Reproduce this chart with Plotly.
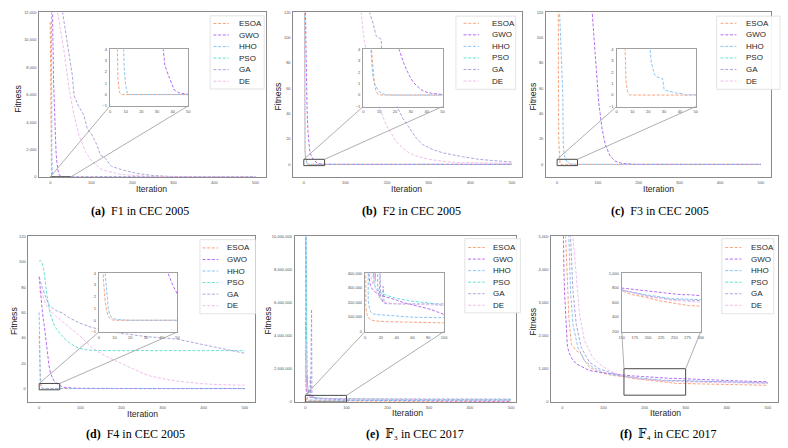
import plotly.graph_objects as go

W, H = 788, 448
ALGOS = ["ESOA", "GWO", "HHO", "PSO", "GA", "DE"]
COLORS = {"ESOA": "#F79A6E", "GWO": "#AA5CF2", "HHO": "#7DBDF2",
          "PSO": "#55DDD0", "GA": "#A29CD8", "DE": "#EDB7EA"}

# ---------------- data: (iteration, fitness) ----------------
# (a) F1 in CEC 2005
F1_ESOA = [(0, 11300), (1, 3000), (2, 600), (3, 90), (4, 10), (5, 1.5), (6, 0.2), (7, 0.02), (8, 0), (500, 0)]
F1_GWO = [(0, 42000), (2, 30000), (4, 18000), (6, 11000), (8, 7000), (10, 4800), (12, 3000), (14, 1900),
          (16, 1100), (18, 600), (20, 320), (22, 160), (25, 60), (28, 20), (31, 8), (34, 4), (35, 2.6),
          (37, 1.8), (39, 1.0), (41, 0.4), (44, 0.15), (47, 0.06), (50, 0.02), (60, 0), (500, 0)]
F1_HHO = [(0, 35000), (1, 22000), (2, 12500), (3, 5000), (4, 1500), (5, 400), (6, 90), (7, 20), (8, 7),
          (9, 2.5), (10, 0.8), (11, 0.15), (12, 0.02), (13, 0), (500, 0)]
F1_PSO = [(0, 90000), (100, 60000), (200, 45000), (300, 38000), (400, 33000), (500, 30000)]
F1_GA = [(0, 60000), (20, 20000), (30, 12000), (34, 11230), (39, 10030), (46, 8830), (54, 7380), (58, 5940),
         (68, 5220), (82, 4500), (90, 3540), (102, 3050), (114, 2330), (122, 1610), (134, 1370), (146, 890),
         (150, 770), (175, 530), (207, 290), (247, 120), (287, 50), (350, 15), (420, 5), (500, 2)]
F1_DE = [(0, 50000), (10, 20000), (18, 12000), (34, 9070), (46, 6420), (58, 4500), (70, 3050), (86, 1850),
         (102, 1130), (126, 530), (167, 220), (207, 100), (287, 20), (350, 5), (420, 1), (500, 0.5)]

# (b) F2 in CEC 2005
F2_ESOA = [(0, 320), (1, 70), (2, 22), (3, 9), (4, 6), (5, 4.6), (6, 2.6), (7, 1.1), (8, 0.35), (9, 0.1),
           (10, 0.02), (12, 0), (500, 0)]
F2_GWO = [(0, 1200), (2, 400), (4, 125), (5, 95), (6, 70), (8, 42), (10, 26), (12, 17), (14, 11.5), (16, 8.2),
          (18, 6.3), (20, 5), (22, 4.2), (24, 3.4), (26, 2.6), (28, 2.0), (30, 1.45), (32, 1.05), (34, 0.75),
          (36, 0.52), (38, 0.35), (40, 0.24), (43, 0.15), (46, 0.09), (50, 0.05), (60, 0.01), (80, 0), (500, 0)]
F2_HHO = [(0, 400), (1, 120), (2, 32), (3, 11), (4, 5.5), (5, 3.3), (6, 1.7), (7, 1.0), (8, 0.7), (9, 0.5),
          (10, 0.3), (12, 0.1), (15, 0.02), (20, 0), (500, 0)]
F2_PSO = [(0, 3000), (100, 1500), (200, 900), (300, 700), (400, 600), (500, 550)]
F2_GA = [(0, 600), (100, 240), (140, 160), (158, 120), (166, 111.7), (174, 101.3), (186, 98.7), (187, 90.9),
         (202, 67.5), (218, 49.4), (238, 36.4), (254, 28.6), (270, 20.8), (286, 15.6), (310, 11.7), (334, 9.1),
         (358, 7.3), (382, 6), (422, 3.9), (462, 2.6), (500, 1.8)]
F2_DE = [(0, 500), (100, 200), (138, 120), (142, 106), (150, 88), (166, 62), (182, 44), (198, 31), (222, 18),
         (246, 10.4), (270, 6.5), (302, 3.9), (342, 2.1), (382, 1.3), (500, 0.8)]

# (c) F3 in CEC 2005
F3_ESOA = [(0, 2000), (1, 600), (2, 200), (3, 80), (4, 20), (5, 6), (6, 1.2), (7, 0.3), (8, 0.05), (9, 0), (500, 0)]
F3_GWO = [(0, 20000), (40, 2000), (70, 400), (86, 120), (94, 88), (102, 49), (110, 28.6), (118, 15.6),
          (130, 6.5), (142, 2.6), (158, 0.8), (175, 0.2), (190, 0.02), (200, 0), (500, 0)]
F3_HHO = [(0, 3000), (3, 600), (5, 160), (6, 120), (8, 105), (10, 95), (12, 75), (13, 65), (14, 55), (15, 15),
          (16, 11), (18, 7), (20, 5), (21, 4.3), (22, 2.8), (23, 2.2), (24, 1.8), (25, 1.6), (27, 1.5),
          (29, 1.45), (30, 0.5), (31, 0.4), (33, 0.35), (35, 0.25), (37, 0.18), (40, 0.15), (42, 0.12),
          (43, 0.02), (45, 0), (500, 0)]
F3_PSO = [(0, 30000), (50, 8000), (100, 3000), (200, 1200), (300, 700), (400, 500), (500, 400)]
F3_GA = [(0, 60000), (50, 30000), (100, 15000), (200, 6000), (300, 3000), (400, 2000), (500, 1500)]
F3_DE = [(0, 50000), (50, 25000), (100, 12000), (200, 5000), (300, 2500), (400, 1500), (500, 1000)]

# (d) F4 in CEC 2005
F4_ESOA = [(0, 41.5), (1, 15), (2, 6.5), (3, 3.3), (4, 1.6), (5, 0.8), (6, 0.35), (7, 0.15), (8, 0.05),
           (9, 0.01), (10, 0), (500, 0)]
F4_GWO = [(0, 88.3), (2, 80), (4, 71), (8, 60), (12, 50.6), (16, 38), (20, 27.3), (24, 18), (28, 11.7), (32, 8),
          (36, 6), (40, 4.8), (44, 4), (47, 3), (50, 2.2), (55, 1.5), (60, 1), (70, 0.6), (80, 0.4), (100, 0.2),
          (120, 0.1), (200, 0.02), (300, 0), (500, 0)]
F4_HHO = [(0, 60), (1, 25), (2, 11), (3, 6), (4, 4), (5, 2.2), (6, 1), (7, 0.5), (8, 0.25), (9, 0.15),
          (12, 0.05), (18, 0.01), (20, 0), (500, 0)]
F4_PSO = [(0, 100.5), (3, 101), (6, 100), (9, 97), (12, 92), (16, 81), (20, 71), (24, 64), (28, 58), (34, 52),
          (40, 48), (48, 44.5), (56, 41.5), (64, 38.8), (72, 36.4), (80, 34.6), (88, 33), (100, 31.6),
          (112, 30.6), (130, 30.1), (152, 29.9), (500, 29.9)]
F4_GA = [(0, 88), (4, 83), (8, 79), (16, 72), (24, 66), (32, 63.5), (40, 61.6), (56, 59.7), (72, 56), (96, 52),
         (120, 49), (144, 46.8), (200, 43.5), (260, 41), (335, 39), (393, 35), (433, 32.5), (474, 29.9), (500, 27.8)]
F4_DE = [(0, 76), (4, 78), (8, 74), (16, 66), (28, 61), (40, 57), (56, 53), (72, 49), (88, 44.5), (104, 40),
         (116, 36), (128, 32.5), (140, 29.8), (152, 27.3), (172, 24), (193, 20.8), (213, 17.5), (233, 14.3),
         (253, 11.8), (273, 9.6), (293, 8.2), (313, 7), (333, 6), (353, 5.2), (373, 4.5), (393, 3.9),
         (433, 3.1), (470, 2.8), (500, 2.6)]

# (e) F3 in CEC 2017
E3_ESOA = [(0, 4.8e6), (1, 1.8e5), (2, 1.25e5), (3, 1.05e5), (4, 9.5e4), (8, 7.9e4), (15, 7.2e4), (29, 6.8e4),
           (54, 6.55e4), (80, 6.1e4), (100, 5.65e4), (200, 4.8e4), (300, 4.4e4), (400, 4.1e4), (500, 3.9e4)]
E3_GWO = [(0, 2.2e6), (1, 1.1e6), (2, 7.5e5), (3, 5.5e5), (4, 4.5e5), (5, 3.8e5), (6, 3.3e5), (8, 3.0e5),
          (10, 2.87e5), (13, 2.7e5), (17, 2.53e5), (25, 2.42e5), (38, 2.19e5), (50, 1.97e5), (67, 1.74e5),
          (84, 1.51e5), (100, 1.17e5), (150, 9.5e4), (200, 8.2e4), (300, 7e4), (400, 6.3e4), (500, 5.8e4)]
E3_HHO = [(0, 1.25e7), (1, 2.5e6), (2, 1.2e7), (3, 5.3e6), (4, 2.1e5), (5, 1.63e5), (6, 1.45e5), (8, 1.29e5),
          (11, 1.2e5), (15, 1.17e5), (25, 1.13e5), (38, 1.06e5), (59, 9.9e4), (100, 9.5e4), (200, 9.0e4),
          (300, 8.8e4), (400, 8.7e4), (500, 8.6e4)]
E3_PSO = [(0, 1.1e7), (1, 8.5e6), (2, 3.0e6), (3, 1.8e6), (4, 1.2e6), (5, 9e5), (6, 7e5), (7, 5.5e5), (8, 4.6e5),
          (10, 4.0e5), (12, 3.21e5), (14, 2.95e5), (17, 2.76e5), (25, 2.53e5), (38, 2.3e5), (59, 2.08e5),
          (80, 1.97e5), (100, 1.78e5), (200, 1.6e5), (300, 1.52e5), (400, 1.48e5), (500, 1.45e5)]
E3_GA = [(0, 3.0e6), (1, 1.2e6), (2, 2.2e6), (3, 9e5), (4, 1.6e6), (5, 7e5), (6, 1.1e6), (7, 5e5), (8, 8e5),
         (9, 4.5e5), (10, 6e5), (11, 3.8e5), (12, 1.5e6), (13, 3.5e5), (14, 3.2e6), (15, 5.6e6), (16, 3.0e5),
         (17, 2.4e5), (18, 2.3e5), (19, 4.2e5), (20, 2.2e5), (21, 2.15e5), (22, 2.0e5), (23, 3.1e5),
         (24, 1.95e5), (25, 1.92e5), (40, 1.9e5), (100, 1.9e5), (200, 1.85e5), (300, 1.8e5), (400, 1.78e5),
         (500, 1.75e5)]
E3_DE = [(0, 1.5e6), (1, 3.7e6), (2, 8e5), (3, 1.2e6), (4, 6e5), (5, 9e5), (6, 5e5), (7, 4.5e5), (8, 3.6e5),
         (10, 3.2e5), (12, 4.0e5), (13, 2.9e5), (15, 2.7e5), (18, 2.4e5), (21, 2.2e5), (25, 2.0e5), (40, 1.9e5),
         (60, 1.87e5), (100, 1.85e5), (200, 1.5e5), (300, 1.3e5), (400, 1.2e5), (500, 1.1e5)]

# (f) F4 in CEC 2017
E4_ESOA = [(0, 12000), (5, 7000), (8, 5000), (12, 3835), (16, 2540), (22, 1743), (30, 1600), (34, 1544),
           (46, 1444), (54, 1245), (66, 1046), (90, 896), (122, 797), (150, 760), (170, 706), (195, 670),
           (220, 625), (239, 602), (258, 580), (277, 557), (300, 550), (350, 535), (400, 520), (450, 505), (500, 498)]
E4_GWO = [(0, 8000), (2, 4800), (4, 3900), (6, 3200), (8, 2600), (10, 2000), (12, 1750), (14, 1600), (18, 1440),
          (24, 1295), (34, 1145), (50, 1046), (66, 946), (98, 876), (150, 797), (170, 783), (195, 765),
          (220, 738), (245, 720), (264, 706), (277, 706), (300, 693), (350, 670), (400, 640), (450, 620), (500, 608)]
E4_HHO = [(0, 15000), (10, 7000), (16, 4980), (20, 3337), (26, 2341), (38, 1643), (54, 1245), (74, 1046),
          (98, 896), (122, 820), (150, 770), (195, 706), (245, 652), (300, 638), (400, 590), (500, 560)]
E4_PSO = [(0, 60000), (100, 30000), (200, 20000), (300, 15000), (400, 12000), (500, 10000)]
E4_GA = [(0, 16000), (12, 7000), (20, 4980), (26, 3337), (34, 2341), (46, 1643), (66, 1195), (90, 996),
         (114, 896), (130, 830), (150, 770), (195, 693), (245, 638), (300, 625), (400, 595), (500, 580)]
E4_DE = [(0, 20000), (15, 8000), (26, 4980), (34, 3835), (42, 2640), (54, 1843), (66, 1544), (74, 1345),
         (90, 1145), (114, 946), (140, 800), (150, 775), (195, 684), (245, 630), (300, 602), (400, 575), (500, 560)]

# tick values
MAIN_X_TICKS = [0, 100, 200, 300, 400, 500]
TICKS_Y_A = [0, 2000, 4000, 6000, 8000, 10000, 12000]
TICKS_Y_B = [0, 20, 40, 60, 80, 100, 120]
TICKS_Y_E = [0, 2000000, 4000000, 6000000, 8000000, 10000000]
TICKS_Y_F = [0, 1000, 2000, 3000, 4000, 5000]
INSET_X_50 = [0, 10, 20, 30, 40, 50]
INSET_Y_4 = [-1, 0, 1, 2, 3, 4]
INSET_X_E = [0, 20, 40, 60, 80, 100]
INSET_Y_E = [0, 100000, 200000, 300000, 400000]
INSET_X_F = [150, 175, 200, 225, 250, 275, 300]
INSET_Y_F = [200, 400, 600, 800, 1000]

CAPTIONS = [("(a)", "F1 in CEC 2005"), ("(b)", "F2 in CEC 2005"), ("(c)", "F3 in CEC 2005"),
            ("(d)", "F4 in CEC 2005"), ("(e)", "\U0001D53D\u2083 in CEC 2017"),
            ("(f)", "\U0001D53D\u2084 in CEC 2017")]

DATA = [
    dict(zip(ALGOS, [F1_ESOA, F1_GWO, F1_HHO, F1_PSO, F1_GA, F1_DE])),
    dict(zip(ALGOS, [F2_ESOA, F2_GWO, F2_HHO, F2_PSO, F2_GA, F2_DE])),
    dict(zip(ALGOS, [F3_ESOA, F3_GWO, F3_HHO, F3_PSO, F3_GA, F3_DE])),
    dict(zip(ALGOS, [F4_ESOA, F4_GWO, F4_HHO, F4_PSO, F4_GA, F4_DE])),
    dict(zip(ALGOS, [E3_ESOA, E3_GWO, E3_HHO, E3_PSO, E3_GA, E3_DE])),
    dict(zip(ALGOS, [E4_ESOA, E4_GWO, E4_HHO, E4_PSO, E4_GA, E4_DE])),
]

# ---------------- layout geometry (pixels) ----------------
PANELS = [
    dict(main=(36.5, 9.5, 265, 176), xr=[-27, 525], yr=[0, 12000], yt=TICKS_Y_A,
         inset=(108, 47, 187, 104), ixr=[0, 50], iyr=[-1, 4], ixt=INSET_X_50, iyt=INSET_Y_4,
         leg=(209, 13, 263.5, 87), lx=(212.3, 228), tx=235.7, ly=20.7,
         fit=(15, 97), itr=(150, 188), cap=(137.8, 210)),
    dict(main=(293, 9.5, 524, 176), xr=[-25, 525], yr=[-10, 120], yt=TICKS_Y_B,
         inset=(363.5, 46.7, 443.5, 104.7), ixr=[0, 50], iyr=[-1, 4], ixt=INSET_X_50, iyt=INSET_Y_4,
         leg=(457, 13.3, 517.3, 87.3), lx=(464.7, 480.3), tx=491.3, ly=20.5,
         fit=(277, 95), itr=(407, 188), cap=(411.7, 210)),
    dict(main=(548, 9.5, 775, 176), xr=[-27, 525], yr=[-10, 120], yt=TICKS_Y_B,
         inset=(619, 46.7, 699, 104.7), ixr=[0, 50], iyr=[-1, 4], ixt=INSET_X_50, iyt=INSET_Y_4,
         leg=(720, 13.3, 784, 87.3), lx=(724, 740), tx=747.3, ly=20.5,
         fit=(534.3, 95), itr=(661.8, 188), cap=(662.7, 210)),
    dict(main=(25.7, 236, 254.3, 404), xr=[-26, 525], yr=[-11, 120], yt=TICKS_Y_B,
         inset=(96.7, 273.3, 176, 332.7), ixr=[0, 50], iyr=[-1, 4], ixt=INSET_X_50, iyt=INSET_Y_4,
         leg=(198.7, 239.3, 254.7, 314.3), lx=(201.3, 217.3), tx=224, ly=247.7,
         fit=(11, 321.7), itr=(140.5, 415.3), cap=(133.8, 436)),
    dict(main=(294.3, 236, 518, 403.5), xr=[-26, 513], yr=[0, 10000000], yt=TICKS_Y_E,
         inset=(365.3, 273.3, 445, 332.3), ixr=[0, 100], iyr=[0, 400000], ixt=INSET_X_E, iyt=INSET_Y_E,
         leg=(466, 238.3, 522, 313.3), lx=(469.3, 486), tx=492.7, ly=247.3,
         fit=(267, 321.7), itr=(408, 415), cap=(415.8, 436)),
    dict(main=(553.3, 236, 781.7, 403.3), xr=[-26.5, 524], yr=[0, 5000], yt=TICKS_Y_F,
         inset=(624.3, 273.3, 704, 332.3), ixr=[150, 300], iyr=[200, 1000], ixt=INSET_X_F, iyt=INSET_Y_F,
         leg=(725.3, 238.3, 777.7, 314.3), lx=(728.7, 745), tx=752.7, ly=247.3,
         fit=(535, 322), itr=(668, 415), cap=(670.7, 436)),
]
LEG_DY = 11.68
DASH = "3px,1.7px"

SANS = "Liberation Sans, Arial, sans-serif"
SERIF = "Liberation Serif, Times New Roman, DejaVu Serif, serif"


def px(x):
    return x / W


def py(y):
    return 1 - y / H


def ref(i):
    return ("x", "y") if i == 1 else (f"x{i}", f"y{i}")


fig = go.Figure()
layout = dict(width=W, height=H, margin=dict(l=0, r=0, t=0, b=0), plot_bgcolor="white",
              paper_bgcolor="white", showlegend=False)
shapes, annotations = [], []

for k, (p, data) in enumerate(zip(PANELS, DATA)):
    mi, ii = k + 1, k + 7
    for axi, inset in ((mi, False), (ii, True)):
        xr_, yr_ = ref(axi)
        for algo in ALGOS:
            pts = data[algo]
            fig.add_trace(go.Scatter(
                x=[q[0] for q in pts], y=[q[1] for q in pts], mode="lines", name=algo,
                line=dict(color=COLORS[algo], width=0.9, dash=DASH),
                xaxis=xr_, yaxis=yr_, hoverinfo="skip", showlegend=False))
        box = p["inset"] if inset else p["main"]
        common = dict(showline=True, mirror=True, showgrid=False, zeroline=False, ticks="",
                      linecolor="#a0a0a0" if inset else "#8a8a8a", linewidth=1.3 if inset else 1,
                      tickfont=dict(size=4, color="#555555", family=SANS), ticklabelstandoff=1,
                      fixedrange=True)
        sfx = "" if axi == 1 else str(axi)
        layout["xaxis" + sfx] = dict(domain=[px(box[0]), px(box[2])], anchor=yr_,
                                      range=p["ixr"] if inset else p["xr"],
                                      tickvals=p["ixt"] if inset else MAIN_X_TICKS, **common)
        layout["yaxis" + sfx] = dict(domain=[py(box[3]), py(box[1])], anchor=xr_,
                                      range=p["iyr"] if inset else p["yr"],
                                      tickvals=p["iyt"] if inset else p["yt"], tickformat=",", **common)

    # zoom rectangle on the main axes
    mx_, my_ = ref(mi)
    shapes.append(dict(type="rect", xref=mx_, yref=my_, x0=p["ixr"][0], x1=p["ixr"][1],
                       y0=p["iyr"][0], y1=p["iyr"][1], line=dict(color="#4a4a4a", width=1), layer="above"))
    # connectors from rectangle top corners to inset bottom corners
    (x0, y0, x1, y1) = p["main"]

    def to_px(xv, yv):
        return (x0 + (xv - p["xr"][0]) / (p["xr"][1] - p["xr"][0]) * (x1 - x0),
                y1 - (yv - p["yr"][0]) / (p["yr"][1] - p["yr"][0]) * (y1 - y0))
    ib = p["inset"]
    for cx, ix in ((p["ixr"][0], ib[0]), (p["ixr"][1], ib[2])):
        sx, sy = to_px(cx, p["iyr"][1])
        sy = min(sy, y1)
        shapes.append(dict(type="line", xref="paper", yref="paper", x0=px(sx), y0=py(sy),
                           x1=px(ix), y1=py(ib[3]), line=dict(color="#9a9a9a", width=0.8), layer="above"))

    # legend
    lg = p["leg"]
    shapes.append(dict(type="rect", xref="paper", yref="paper", x0=px(lg[0]), x1=px(lg[2]),
                       y0=py(lg[3]), y1=py(lg[1]), fillcolor="rgba(255,255,255,0.9)",
                       line=dict(color="#dcdcdc", width=0.8), layer="above"))
    for j, algo in enumerate(ALGOS):
        yy = p["ly"] + j * LEG_DY
        shapes.append(dict(type="line", xref="paper", yref="paper", x0=px(p["lx"][0]), x1=px(p["lx"][1]),
                           y0=py(yy), y1=py(yy), line=dict(color=COLORS[algo], width=0.9, dash=DASH),
                           layer="above"))
        annotations.append(dict(text=algo, xref="paper", yref="paper", x=px(p["tx"]), y=py(yy),
                                xanchor="left", yanchor="middle", showarrow=False,
                                font=dict(size=8, color="#262626", family=SANS)))

    # axis titles
    annotations.append(dict(text="Fitness", xref="paper", yref="paper", x=px(p["fit"][0]), y=py(p["fit"][1]),
                            textangle=-90, xanchor="center", yanchor="middle", showarrow=False,
                            font=dict(size=8.6, color="#262626", family=SANS)))
    annotations.append(dict(text="Iteration", xref="paper", yref="paper", x=px(p["itr"][0]), y=py(p["itr"][1]),
                            xanchor="center", yanchor="middle", showarrow=False,
                            font=dict(size=8.6, color="#262626", family=SANS)))
    lab, rest = CAPTIONS[k]
    annotations.append(dict(text=f"<b>{lab}</b>\u00a0\u00a0{rest}", xref="paper", yref="paper",
                            x=px(p["cap"][0]), y=py(p["cap"][1]), xanchor="center", yanchor="middle",
                            showarrow=False, font=dict(size=12, color="black", family=SERIF)))

layout["shapes"] = shapes
layout["annotations"] = annotations
fig.update_layout(**layout)
fig.write_html("out.html", config={"displayModeBar": False},
               post_script="document.body.style.margin='0';document.body.style.padding='0';")
